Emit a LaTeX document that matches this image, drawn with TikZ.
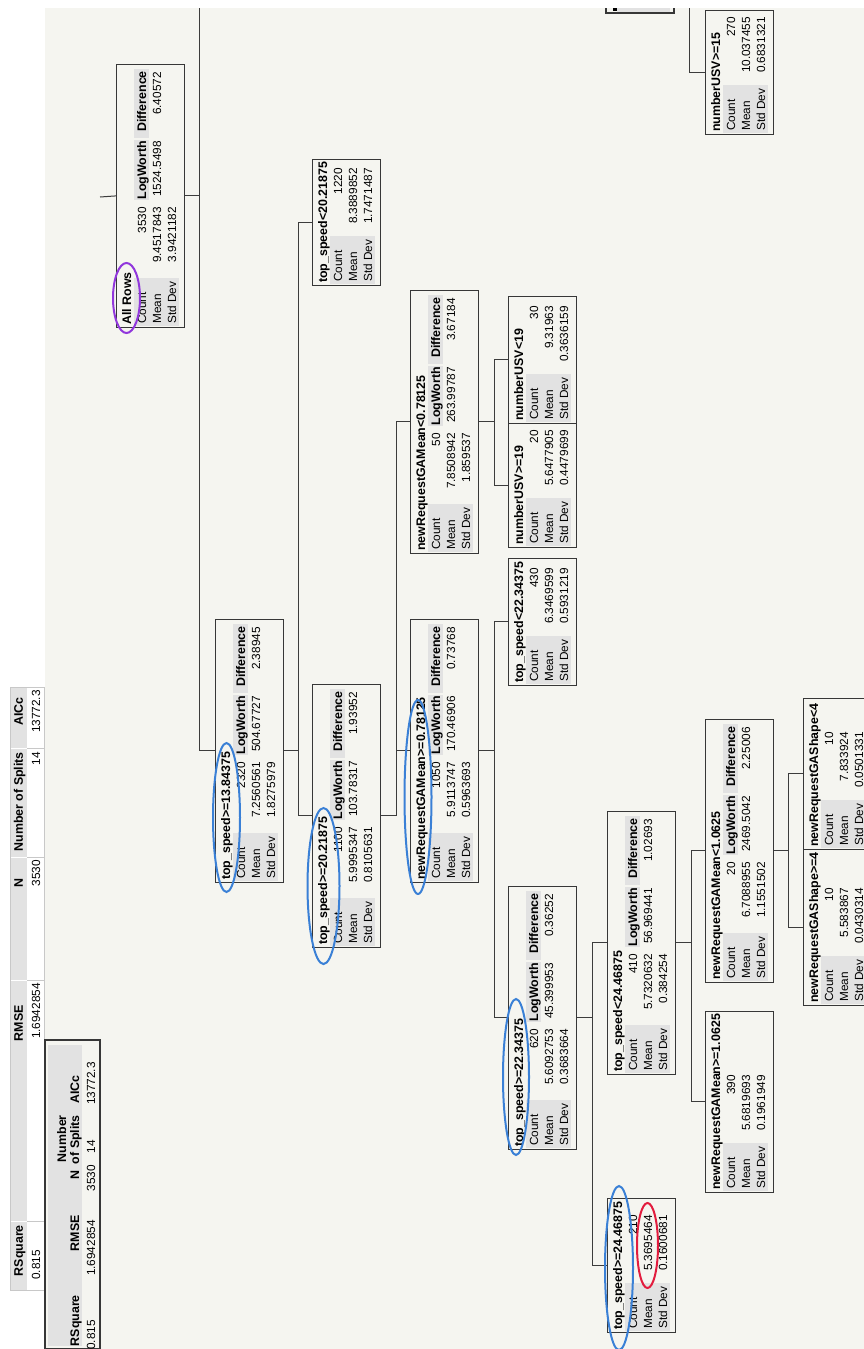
\documentclass[tikz,border=0pt]{standalone}
\usepackage{fontspec}
\setmainfont{Liberation Sans}
\newcommand\jmpfont{\fontsize{11.8}{14}\selectfont}
\newcommand\jmpbold{\fontsize{12.4}{14}\selectfont\bfseries}
\definecolor{paper}{RGB}{245,245,240}
\definecolor{cellgrey}{RGB}{226,226,226}
\definecolor{framecol}{RGB}{55,55,55}
\definecolor{wirecol}{RGB}{60,60,60}
\definecolor{ringblue}{RGB}{58,128,214}
\definecolor{ringpurple}{RGB}{145,55,220}
\definecolor{ringred}{RGB}{226,28,62}
\definecolor{rulegrey}{RGB}{200,200,200}

\tikzset{
  nodeframe/.style={draw=framecol, fill=paper, line width=1.2pt, inner sep=0pt},
  lbl/.style={inner sep=0pt, anchor=base west, font=\jmpfont},
  num/.style={inner sep=0pt, anchor=base east, font=\jmpfont},
  ttl/.style={inner sep=0pt, anchor=base west, font=\jmpbold},
  hdr/.style={inner sep=0pt, anchor=base east, font=\jmpbold},
  wire/.style={draw=wirecol, line width=1pt},
  ring/.style={line width=2pt},
}

% leaf: name, shift, width, title, count, mean, std dev
\newcommand\leafnode[7]{%
\begin{scope}[shift={(#2)},rotate=90,every node/.append style={transform shape}]
  \node[nodeframe, minimum width=#3pt, minimum height=68pt, anchor=north west] (#1) at (0,0) {};
  \fill[cellgrey] (2,-18) rectangle (50,-63);
  \node[ttl] (#1-t) at (3,-15) {#4};
  \node[lbl] (#1-a) at (4,-30) {Count};
  \node[lbl] (#1-b) at (4,-45) {Mean};
  \node[lbl] (#1-c) at (4,-60) {Std Dev};
  \node[num] (#1-x) at (118,-30) {#5};
  \node[num] (#1-y) at (118,-45) {#6};
  \node[num] (#1-z) at (118,-60) {#7};
\end{scope}}

% split: name, shift, title, count, mean, std dev, logworth, difference
\newcommand\splitnode[8]{%
\begin{scope}[shift={(#2)},rotate=90,every node/.append style={transform shape}]
  \node[nodeframe, minimum width=263pt, minimum height=68pt, anchor=north west] (#1) at (0,0) {};
  \fill[cellgrey] (2,-18) rectangle (50,-63);
  \fill[cellgrey] (128,-18) rectangle (188,-33);
  \fill[cellgrey] (190,-18) rectangle (259,-33);
  \node[ttl] (#1-t) at (3,-15) {#3};
  \node[lbl] (#1-a) at (4,-30) {Count};
  \node[lbl] (#1-b) at (4,-45) {Mean};
  \node[lbl] (#1-c) at (4,-60) {Std Dev};
  \node[num] (#1-x) at (121,-30) {#4};
  \node[num] (#1-y) at (121,-45) {#5};
  \node[num] (#1-z) at (121,-60) {#6};
  \node[hdr] (#1-h) at (187,-30) {LogWorth};
  \node[hdr] (#1-k) at (257,-30) {Difference};
  \node[num] (#1-p) at (187,-45) {#7};
  \node[num] (#1-q) at (256,-45) {#8};
\end{scope}}

\begin{document}
\begin{tikzpicture}[x=1pt,y=1pt]
\useasboundingbox (0,0) rectangle (864,-1349);
\clip (0,0) rectangle (864,-1349);
\fill[paper] (0,0) rectangle (864,-1349);
\fill[white] (0,-8) rectangle (45,-1349);

% ---- tree nodes ----
\splitnode{root}{116,-328}{All Rows}{3530}{9.4517843}{3.9421182}{1524.5498}{6.40572}
\splitnode{tsA}{215,-883}{top\_speed>=13.84375}{2320}{7.2560561}{1.8275979}{504.67727}{2.38945}
\leafnode{tsBl}{312,-286}{126}{top\_speed<20.21875}{1220}{8.3889852}{1.7471487}
\splitnode{tsB}{312,-948}{top\_speed>=20.21875}{1100}{5.9995347}{0.8105631}{103.78317}{1.93952}
\splitnode{gaAl}{410,-554}{newRequestGAMean<0.78125}{50}{7.8508942}{1.859537}{263.99787}{3.67184}
\splitnode{gaA}{410,-883}{newRequestGAMean>=0.78125}{1050}{5.9113747}{0.5963693}{170.46906}{0.73768}
\leafnode{usvl}{508,-424}{127}{numberUSV<19}{30}{9.31963}{0.3636159}
\leafnode{usvg}{508,-548}{124}{numberUSV>=19}{20}{5.6477905}{0.4479699}
\leafnode{tsCl}{508,-686}{127}{top\_speed<22.34375}{430}{6.3469599}{0.5931219}
\splitnode{tsC}{508,-1150}{top\_speed>=22.34375}{620}{5.6092753}{0.3683664}{45.399953}{0.36252}
\splitnode{tsDl}{607,-1075}{top\_speed<24.46875}{410}{5.7320632}{0.384254}{56.969441}{1.02693}
\leafnode{tsD}{607,-1333}{134}{top\_speed>=24.46875}{210}{5.3695464}{0.1600681}
\splitnode{gaBl}{705,-983}{newRequestGAMean<1.0625}{20}{6.7088955}{1.1551502}{2469.5042}{2.25006}
\leafnode{gaB}{705,-1193}{181}{newRequestGAMean>=1.0625}{390}{5.6819693}{0.1961949}
\leafnode{shl}{803,-850}{151}{newRequestGAShape<4}{10}{7.833924}{0.0501331}
\leafnode{shg}{803,-1006}{156}{newRequestGAShape>=4}{10}{5.583867}{0.0430314}
\leafnode{usvF}{705,-135}{124}{numberUSV>=15}{270}{10.037455}{0.6831321}

% fragment of a node cut by the upper edge
\draw[nodeframe] (606,2) rectangle (674,-13);
\fill[cellgrey] (617,0) rectangle (670,-11.5);
\fill[black] (612.5,0) rectangle (617,-11);

% ---- connectors ----
\coordinate (topA) at (198,0);
\coordinate (topF) at (689,0);
\coordinate (inRoot) at (100,-197);
\draw[wire] (inRoot) -- (root.north);
\draw[wire] (root.south) -- ++(14,0) coordinate (jA) -- (jA |- topA);
\draw[wire] (jA) |- (tsA.north);
\draw[wire] (tsA.south) -- ++(14,0) coordinate (jB) |- (tsBl.north);
\draw[wire] (jB) |- (tsB.north);
\draw[wire] (tsB.south) -- ++(15,0) coordinate (jC) |- (gaAl.north);
\draw[wire] (jC) |- (gaA.north);
\draw[wire] (gaAl.south) -- ++(15,0) coordinate (jD) |- (usvl.north);
\draw[wire] (jD) |- (usvg.north);
\draw[wire] (gaA.south) -- ++(15,0) coordinate (jE) |- (tsCl.north);
\draw[wire] (jE) |- (tsC.north);
\draw[wire] (tsC.south) -- ++(15,0) coordinate (jG) |- (tsDl.north);
\draw[wire] (jG) |- (tsD.north);
\draw[wire] (tsDl.south) -- ++(15,0) coordinate (jH) |- (gaBl.north);
\draw[wire] (jH) |- (gaB.north);
\draw[wire] (gaBl.south) -- ++(14,0) coordinate (jI) |- (shl.north);
\draw[wire] (jI) |- (shg.north);
\draw[wire] (topF) |- (usvF.north);

% ---- white strip on top ----
\fill[white] (0,0) rectangle (864,-8);

% ---- summary table (upper) ----
\begin{scope}[every node/.append style={rotate=90}]
  \fill[cellgrey] (10,-687) rectangle (27,-1290);
  \foreach \yy in {748,857,980,1221} { \draw[white, line width=1pt] (10,-\yy) -- (27,-\yy); }
  \draw[rulegrey, line width=0.6pt] (10,-687) rectangle (44,-1290);
  \foreach \yy in {748,857,980,1221} { \draw[rulegrey, line width=0.6pt] (27,-\yy) -- (44,-\yy); }
  \node[hdr] (sAh1) at (23,-697) {AICc};
  \node[hdr] (sAh2) at (23,-752) {Number of Splits};
  \node[hdr] (sAh3) at (23,-878) {N};
  \node[hdr] (sAh4) at (23,-1005) {RMSE};
  \node[hdr] (sAh5) at (23,-1225) {RSquare};
  \node[num] (sAv1) at (40,-690) {13772.3};
  \node[num] (sAv2) at (40,-752) {14};
  \node[num] (sAv3) at (40,-860) {3530};
  \node[num] (sAv4) at (40,-983) {1.6942854};
  \node[num] (sAv5) at (40,-1250) {0.815};
\end{scope}

% ---- summary table (lower, framed) ----
\begin{scope}[every node/.append style={rotate=90}]
  \draw[framecol, line width=1.2pt, fill=paper] (45,-1040) rectangle (100,-1349);
  \fill[cellgrey] (48,-1045) rectangle (82,-1346);
  \node[hdr] (sBh1) at (79,-1075) {AICc};
  \node[hdr] (sBh2) at (66,-1115) {Number};
  \node[hdr] (sBh3) at (79,-1115) {of Splits};
  \node[hdr] (sBh4) at (79,-1170) {N};
  \node[hdr] (sBh5) at (79,-1215) {RMSE};
  \node[hdr] (sBh6) at (79,-1295) {RSquare};
  \node[num] (sBv1) at (95,-1062) {13772.3};
  \node[num] (sBv2) at (95,-1140) {14};
  \node[num] (sBv3) at (95,-1165) {3530};
  \node[num] (sBv4) at (95,-1220) {1.6942854};
  \node[num] (sBv5) at (95,-1320) {0.815};
\end{scope}

% ---- hand-drawn rings ----
\draw[ring, ringpurple] (126.5,-298) ellipse [x radius=13.5, y radius=35];
\draw[ring, ringblue] (226.5,-817.5) ellipse [x radius=13.5, y radius=74.5];
\draw[ring, ringblue] (323.5,-886) ellipse [x radius=16, y radius=78];
\draw[ring, ringblue] (418,-797) ellipse [x radius=13.5, y radius=97];
\draw[ring, ringblue] (516,-1077) ellipse [x radius=13, y radius=78];
\draw[ring, ringblue] (619,-1268) ellipse [x radius=14, y radius=82];
\draw[ring, ringred] (647.5,-1245.5) ellipse [x radius=10.5, y radius=42.5];
\end{tikzpicture}
\end{document}
